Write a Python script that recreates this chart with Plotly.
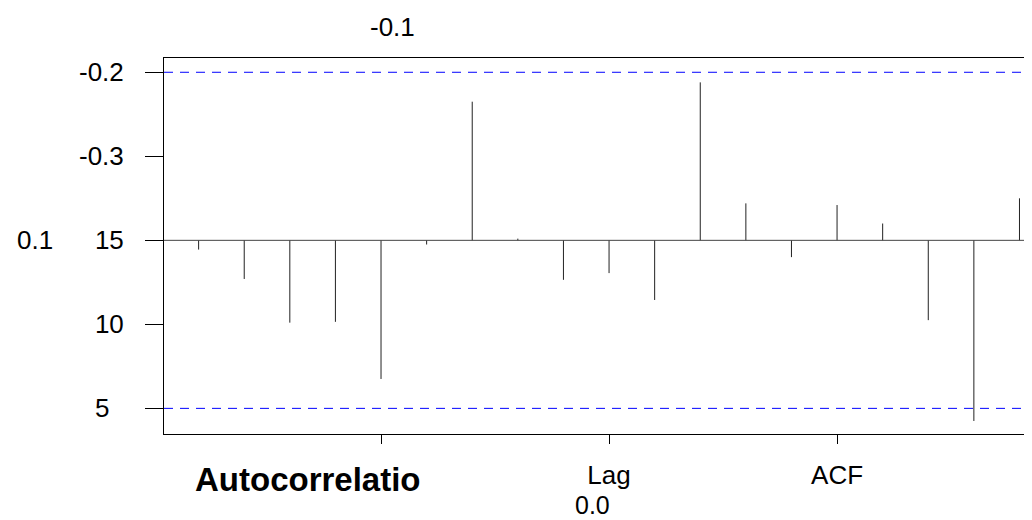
import plotly.graph_objects as go

# Data
lags = list(range(1, 20))
acf_values = [-0.011, -0.046, -0.098, -0.097, -0.165, -0.005, 0.165, 0.002,
              -0.047, -0.039, -0.071, 0.188, 0.044, -0.020, 0.042, 0.020,
              -0.095, -0.215, 0.050]
conf_level = 0.2
y_tick_vals = [-0.2, -0.1, 0.0, 0.1, 0.2]
y_tick_text = ["5\u2007", "10", "15", "-0.3", "-0.2"]
x_tick_vals = [5, 10, 15]
x_tick_text = ["", "Lag", "ACF"]

FONT = "Liberation Sans, Arial, sans-serif"

xs, ys = [], []
for lag, v in zip(lags, acf_values):
    xs += [lag, lag, None]
    ys += [0, v, None]

fig = go.Figure()
fig.add_trace(go.Scatter(x=xs, y=ys, mode="lines",
                         line=dict(color="#222222", width=1),
                         hoverinfo="skip", showlegend=False))

# zero line and confidence bounds
fig.add_hline(y=0, line=dict(color="#444444", width=1))
for c in (conf_level, -conf_level):
    fig.add_hline(y=c, line=dict(color="#0000FF", width=1, dash="9px,7px"))

fig.update_layout(
    width=1032, height=520,
    margin=dict(l=156, r=0, t=50, b=94),
    paper_bgcolor="white", plot_bgcolor="white",
    font=dict(family=FONT, size=26, color="black"),
    showlegend=False,
)
fig.update_xaxes(range=[0.241, 19.45], showgrid=False, zeroline=False,
                 showline=True, linecolor="black", linewidth=1, mirror=True,
                 tickmode="array", tickvals=x_tick_vals, ticktext=x_tick_text,
                 ticks="outside", ticklen=9, tickcolor="black", tickwidth=1,
                 ticklabelstandoff=9)
fig.update_yaxes(range=[-0.2305, 0.2170], showgrid=False, zeroline=False,
                 showline=True, linecolor="black", linewidth=1, mirror=False,
                 tickmode="array", tickvals=y_tick_vals, ticktext=y_tick_text,
                 ticks="outside", ticklen=18, tickcolor="black", tickwidth=1,
                 ticklabelstandoff=16)

fig.add_annotation(text="-0.1", xref="paper", yref="paper", x=0.2614, y=1.0824,
                   showarrow=False, xanchor="center", yanchor="middle",
                   font=dict(size=26))
fig.add_annotation(text="0.1", xref="paper", yref="y", x=-0.1473, y=0,
                   showarrow=False, xanchor="center", yanchor="middle",
                   font=dict(size=26))
fig.add_annotation(text="<b>Autocorrelatio</b>", xref="x", yref="paper", x=3.40, y=-0.1197,
                   showarrow=False, xanchor="center", yanchor="middle",
                   font=dict(size=33))
fig.add_annotation(text="0.0", xref="x", yref="paper", x=9.63, y=-0.188,
                   showarrow=False, xanchor="center", yanchor="middle",
                   borderpad=0, font=dict(size=25))

fig.write_html("out.html")
